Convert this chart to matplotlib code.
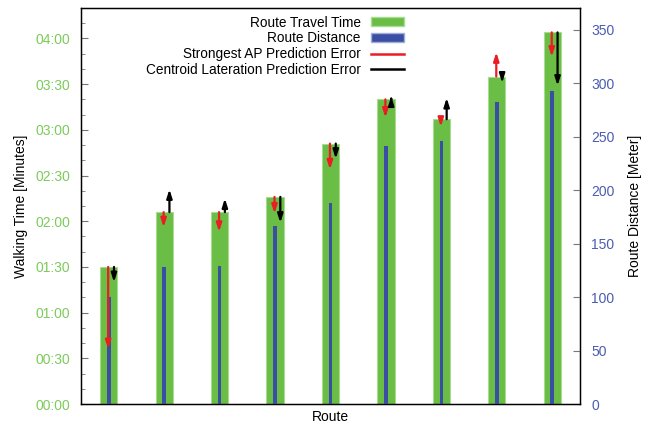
import matplotlib.pyplot as plt
import matplotlib.ticker as ticker
from matplotlib.patches import Patch
from matplotlib.lines import Line2D

plt.rcParams['font.family'] = ['Liberation Sans', 'DejaVu Sans']

routes = [1, 2, 3, 4, 5, 6, 7, 8, 9]
walk_time = [90, 126, 126, 136, 171, 200, 187, 215, 244]        # seconds
distance = [100, 128, 129, 167, 188, 241, 246, 283, 293]        # meter
ap_err = [-54, -10, -13, -11, -17, -12, -5, 16, -16]            # seconds
centroid_err = [-10, 15, 9, -17, -10, 2, 14, -4, -35]           # seconds

green = '#6abd45'; blue = '#3a4fa3'; red = '#ec1c24'
tgreen = '#7ccb5b'; tblue = '#4a5cb0'

fig = plt.figure(figsize=(6.49, 4.23), dpi=100)
ax = fig.add_axes([0.1248, 0.0449, 0.7689, 0.9361])
ax2 = ax.twinx()

ax.bar(routes, walk_time, width=0.31, color=green, edgecolor='#a8dc90', linewidth=0.8)
ax2.bar(routes, distance, width=0.065, color=blue, edgecolor='none')

for x, t, e in zip(routes, walk_time, ap_err):
    ax2.annotate('', xy=(x - 0.01, t + e), xytext=(x - 0.01, t),
                 xycoords=ax.transData, textcoords=ax.transData,
                 arrowprops=dict(arrowstyle='-|>,head_length=0.5,head_width=0.16',
                                 color=red, lw=1.6, shrinkA=0, shrinkB=0))
for x, t, e in zip(routes, walk_time, centroid_err):
    ax2.annotate('', xy=(x + 0.095, t + e), xytext=(x + 0.095, t),
                 xycoords=ax.transData, textcoords=ax.transData,
                 arrowprops=dict(arrowstyle='-|>,head_length=0.5,head_width=0.16',
                                 color='black', lw=1.6, shrinkA=0, shrinkB=0))

ax.set_xlim(0.5, 9.5)
ax.set_ylim(0, 260)
ax2.set_ylim(0, 370.5)
ax.set_xticks([])

ax.yaxis.set_major_locator(ticker.MultipleLocator(30))
ax.yaxis.set_minor_locator(ticker.MultipleLocator(10))
ax.yaxis.set_major_formatter(ticker.FuncFormatter(lambda v, p: '%02d:%02d' % (v // 60, v % 60)))
ax.tick_params(axis='y', which='both', direction='in', colors='#777777', labelcolor=tgreen, labelsize=10, pad=8)
ax.tick_params(axis='y', which='major', length=5)
ax.tick_params(axis='y', which='minor', length=3)

ax2.yaxis.set_major_locator(ticker.MultipleLocator(50))
ax2.tick_params(axis='y', which='both', direction='in', colors='#777777', labelcolor=tblue, labelsize=10, length=5, pad=8)

ax.set_ylabel('Walking Time [Minutes]', fontsize=10, labelpad=5)
ax2.set_ylabel('Route Distance [Meter]', fontsize=10, labelpad=10)
ax.set_xlabel('Route', fontsize=10, labelpad=4)

for s in ax.spines.values():
    s.set_linewidth(1.0)

handles = [Patch(facecolor=green, edgecolor='#a8dc90'),
           Patch(facecolor=blue, edgecolor='#a0aedc'),
           Line2D([], [], color=red, lw=1.8),
           Line2D([], [], color='black', lw=1.8)]
labels = ['Route Travel Time', 'Route Distance',
          'Strongest AP Prediction Error', 'Centroid Lateration Prediction Error']
ax2.legend(handles, labels, loc='upper right', bbox_to_anchor=(0.672, 1.012),
           markerfirst=False, frameon=False, fontsize=9.8, handlelength=2.4,
           handleheight=0.6, labelspacing=0.13, handletextpad=0.8)

fig.savefig('out.png', dpi=100)
